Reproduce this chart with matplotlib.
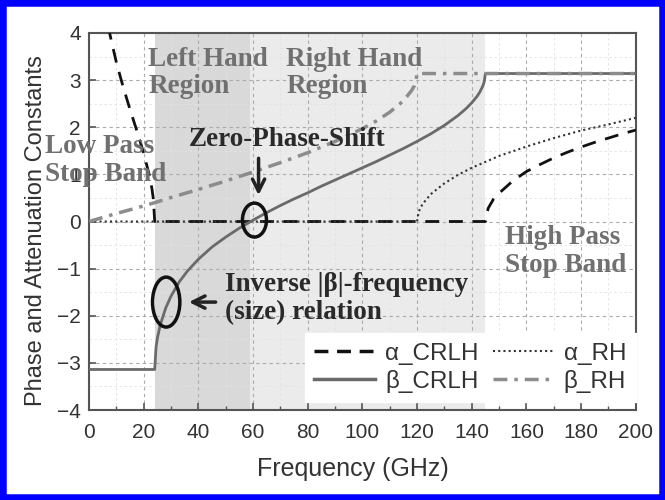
import matplotlib
matplotlib.use('Agg')
import matplotlib.pyplot as plt
from matplotlib.patches import Ellipse, Rectangle
from matplotlib.lines import Line2D
from matplotlib.ticker import MultipleLocator

plt.rcParams['font.family'] = ['Liberation Sans', 'DejaVu Sans']

# CRLH attenuation: low stop band, pass band (zero), high stop band
alpha_crlh_f = [7, 7.5, 8, 10, 12, 14, 16, 18, 20, 22, 23, 23.5, 24, 145,
                146, 148, 150, 155, 160, 165, 170, 175, 180, 185, 190, 195, 200]
alpha_crlh = [4.15, 4.0, 3.87, 3.37, 2.95, 2.56, 2.19, 1.83, 1.44, 0.99, 0.69, 0.48, 0, 0,
              0.28, 0.48, 0.60, 0.86, 1.06, 1.21, 1.35, 1.47, 1.58, 1.68, 1.77, 1.86, 1.94]

# CRLH phase constant
beta_crlh_f = [0, 24, 24.5, 25, 26, 28, 30, 33, 36, 40, 45, 50, 55, 60, 65, 70, 75, 80,
               85, 90, 95, 100, 105, 110, 115, 120, 125, 130, 135, 138, 140, 142, 143,
               144, 144.5, 145, 200]
beta_crlh = [-3.14, -3.14, -2.66, -2.47, -2.20, -1.84, -1.58, -1.28, -1.05, -0.80, -0.54,
             -0.33, -0.14, 0.03, 0.19, 0.34, 0.48, 0.61, 0.75, 0.88, 1.01, 1.14, 1.27,
             1.41, 1.55, 1.70, 1.86, 2.04, 2.25, 2.40, 2.52, 2.66, 2.75, 2.87, 2.95,
             3.14, 3.14]

# RH line
alpha_rh_f = [0, 120, 120.5, 121, 122, 125, 130, 135, 140, 150, 160, 170, 180, 190, 200]
alpha_rh = [0, 0, 0.18, 0.26, 0.37, 0.58, 0.81, 0.99, 1.14, 1.39, 1.59, 1.77, 1.93, 2.06, 2.20]

beta_rh_f = [0, 10, 20, 24, 30, 40, 50, 60, 70, 80, 90, 100, 105, 110, 115, 118, 119,
             119.5, 120, 200]
beta_rh = [0, 0.17, 0.33, 0.40, 0.51, 0.68, 0.86, 1.05, 1.25, 1.46, 1.70, 1.97, 2.13,
           2.32, 2.56, 2.78, 2.88, 2.96, 3.14, 3.14]

x_ticks = [0, 20, 40, 60, 80, 100, 120, 140, 160, 180, 200]
y_ticks = [-4, -3, -2, -1, 0, 1, 2, 3, 4]

fig = plt.figure(figsize=(6.65, 5), dpi=100)
ax = fig.add_axes([0.134, 0.18, 0.822, 0.754])

ax.axvspan(24, 59, color='#d9d9d9', zorder=0, lw=0)
ax.axvspan(59, 145, color='#ebebeb', zorder=0, lw=0)

ax.plot(alpha_crlh_f, alpha_crlh, color='#111111', lw=2, dashes=(5, 3.5), zorder=3)
ax.plot(alpha_rh_f, alpha_rh, color='#333333', lw=1.5, linestyle=(0, (1, 1.5)), zorder=3)
ax.plot(beta_crlh_f, beta_crlh, color='#6a6a6a', lw=2, zorder=3)
ax.plot(beta_rh_f, beta_rh, color='#8c8c8c', lw=2.5, dashes=(4, 2, 1, 2), zorder=3)

ax.set_xlim(0, 200)
ax.set_ylim(-4, 4)
ax.set_xticks(x_ticks)
ax.set_yticks(y_ticks)
ax.xaxis.set_minor_locator(MultipleLocator(10))
ax.yaxis.set_minor_locator(MultipleLocator(0.5))
ax.tick_params(axis='both', which='major', direction='in', length=5, width=1.2,
               color='#555555', labelsize=15, labelcolor='#333333')
ax.tick_params(axis='x', which='major', pad=9)
ax.tick_params(axis='y', which='major', pad=6)
ax.tick_params(axis='x', which='minor', direction='in', length=3, width=1, color='#555555')
ax.tick_params(axis='y', which='minor', length=0)

ax.set_axisbelow(True)
ax.grid(which='major', color='#aaaaaa', lw=0.8, linestyle=(0, (3, 3)))
ax.grid(which='minor', color='#e2e2e2', lw=0.6, linestyle=(0, (3, 3)))
for s in ax.spines.values():
    s.set_color('#555555')
    s.set_linewidth(1.5)

ax.set_xlabel('Frequency (GHz)', fontsize=18, color='#333333')
ax.set_ylabel('Phase and Attenuation Constants', fontsize=17, color='#333333')
ax.xaxis.set_label_coords(0.483, -0.125)
ax.yaxis.set_label_coords(-0.077, 0.477)

# region labels
gray_txt = dict(family='Liberation Serif', weight='bold', fontsize=19.5, color='#707070',
                ha='left', va='center', linespacing=1.15, zorder=5)
dark_txt = dict(gray_txt, color='#2a2a2a')
ax.text(21.7, 3.15, 'Left Hand\nRegion', **gray_txt)
ax.text(72.1, 3.15, 'Right Hand\nRegion', **gray_txt)
ax.text(-16.3, 1.29, 'Low Pass\nStop Band', **gray_txt)
ax.text(152.2, -0.63, 'High Pass\nStop Band', **gray_txt)
ax.text(36.4, 1.74, 'Zero-Phase-Shift', **dark_txt)
ax.text(49.6, -1.64, 'Inverse |β|-frequency\n(size) relation', **dark_txt)

ax.annotate('', xy=(62, 0.5), xytext=(62, 1.4),
            arrowprops=dict(arrowstyle='->', lw=2.5, color='#222222', mutation_scale=22),
            zorder=6)
ax.annotate('', xy=(35.5, -1.71), xytext=(47.3, -1.71),
            arrowprops=dict(arrowstyle='->', lw=2.5, color='#222222', mutation_scale=22),
            zorder=6)
ax.add_patch(Ellipse((60.5, 0.03), 8.8, 0.72, fill=False, ec='#111111', lw=2.5, zorder=6))
ax.add_patch(Ellipse((28.2, -1.71), 10, 1.06, fill=False, ec='#111111', lw=2.5, zorder=6))

handles = [
    Line2D([], [], color='#111111', lw=2.5, dashes=(4, 2.5)),
    Line2D([], [], color='#6a6a6a', lw=2.5),
    Line2D([], [], color='#333333', lw=1.5, linestyle=(0, (1, 1.5))),
    Line2D([], [], color='#8c8c8c', lw=2.5, dashes=(4, 2, 1, 2)),
]
labels = ['α_CRLH', 'β_CRLH', 'α_RH', 'β_RH']
leg = ax.legend(handles, labels, ncol=2, loc='lower right', bbox_to_anchor=(1.0, 0.02),
                borderaxespad=0, fontsize=17.5, handlelength=2.5, handletextpad=0.4,
                columnspacing=0.6, labelspacing=0.2, borderpad=0.4,
                frameon=True, fancybox=False, framealpha=1, facecolor='white',
                edgecolor='white')
for t in leg.get_texts():
    t.set_color('#333333')
leg.set_zorder(7)

fig.patches.append(Rectangle((0, 0), 1, 1, transform=fig.transFigure, fill=False,
                             ec='#0000ff', lw=9, zorder=10))

fig.savefig('out.png', dpi=100)
